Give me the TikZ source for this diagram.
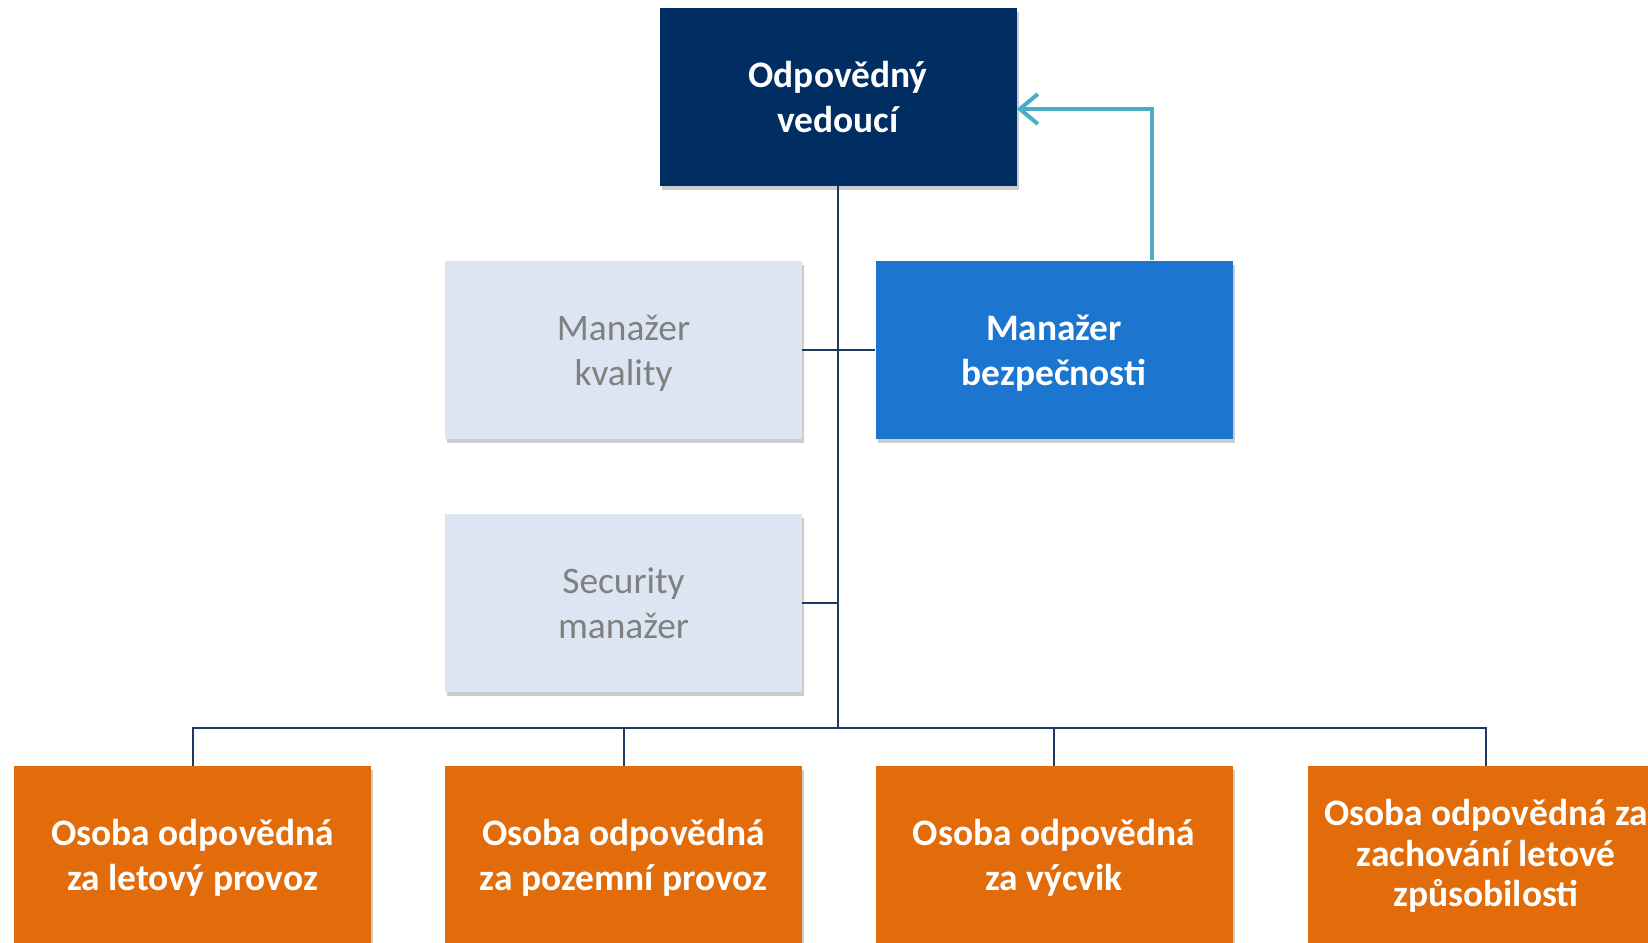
\documentclass[tikz,border=0pt]{standalone}
\usepackage{fontspec}
\setmainfont{Carlito}
\usetikzlibrary{shadows,arrows.meta}
\definecolor{navy}{HTML}{002D62}
\definecolor{bblue}{HTML}{1C75CE}
\definecolor{lgray}{HTML}{DCE6F2}
\definecolor{tgray}{HTML}{808080}
\definecolor{orng}{HTML}{E36C0A}
\definecolor{teal2}{HTML}{4BACC6}
\definecolor{conn}{HTML}{1F3864}
\newcommand\topstr{\rule{0pt}{35pt}}
\newcommand\topstrb{\rule{0pt}{31pt}}
\newcommand\botstr{\rule[-8.6pt]{0pt}{0pt}}
\tikzset{
  box/.style={rectangle, minimum width=357pt, minimum height=178pt, inner sep=0pt, align=center,
    font=\fontsize{37.4}{45}\selectfont,
    drop shadow={shadow xshift=2pt, shadow yshift=-4pt, opacity=0.2, fill=black}},
  topbox/.style={box, fill=navy, text=white, font=\fontsize{37.4}{45}\selectfont\bfseries},
  bluebox/.style={box, fill=bblue, text=white, font=\fontsize{37.4}{45}\selectfont\bfseries},
  graybox/.style={box, fill=lgray, text=tgray},
  orangebox/.style={box, fill=orng, text=white, font=\fontsize{37.4}{45}\selectfont\bfseries},
  link/.style={draw=conn, line width=2pt},
  feedback/.style={draw=teal2, line width=4pt, -{Straight Barb[length=18pt, width=30pt, line width=4pt]}}
}
\begin{document}
\begin{tikzpicture}[x=1pt, y=-1pt]
\useasboundingbox (0,0) rectangle (1648,942);
\clip (0,0) rectangle (1648,942);
\fill[white] (0,0) rectangle (1648,942);

\node[topbox] (top) at (838,96.7) {\topstr Odpovědný\\vedoucí\botstr};
\node[graybox] (kval) at (623.5,349.5) {\topstr Manažer\\kvality\botstr};
\node[bluebox] (bezp) at (1054,349.5) {\topstr Manažer\\bezpečnosti\botstr};
\node[graybox] (sec) at (623.5,603) {\topstr Security\\manažer\botstr};
\node[orangebox] (b1) at (192.5,855) {\topstr Osoba odpovědná\\za letový provoz\botstr};
\node[orangebox] (b2) at (623.5,855) {\topstr Osoba odpovědná\\za pozemní provoz\botstr};
\node[orangebox] (b3) at (1054,855) {\topstr Osoba odpovědná\\za výcvik\botstr};
\node[orangebox, font=\fontsize{37.4}{40.5}\selectfont\bfseries] (b4) at (1486,855) {\topstrb Osoba odpovědná za\\zachování letové\\způsobilosti\botstr};

\coordinate (bus) at (838,728);
\coordinate (ar) at (1152,109);

\draw[link] (top.south) -- (bus);
\draw[link] (kval.east) -- (bezp.west);
\draw[link] (sec.east) -- (sec.east -| top.south);
\draw[link] (b1.north) |- (bus) -| (b4.north);
\draw[link] (b2.north) -- (b2.north |- bus);
\draw[link] (b3.north) -- (b3.north |- bus);

\draw[feedback] (bezp.north -| ar) -- (ar) -- (top.east |- ar);
\end{tikzpicture}
\end{document}
